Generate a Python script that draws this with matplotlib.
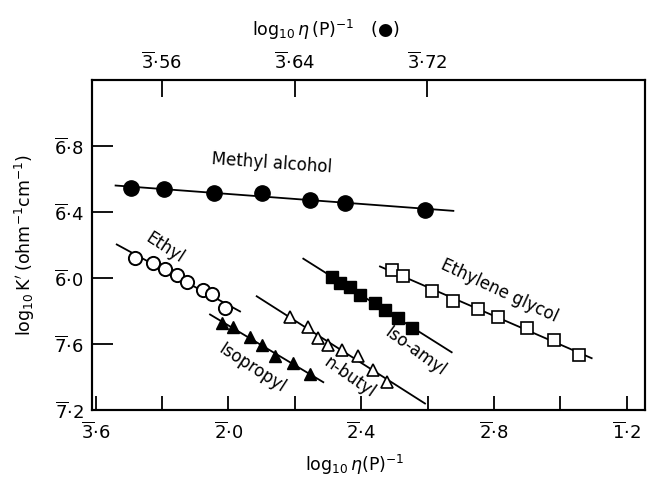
import numpy as np
import matplotlib
matplotlib.use("Agg")
import matplotlib.pyplot as plt

plt.rcParams["font.family"] = ["DejaVu Sans"]
plt.rcParams["mathtext.fontset"] = "dejavusans"

# methyl alcohol is read against the top axis
methyl_x = [-2.4588, -2.4388, -2.4087, -2.3797, -2.3506, -2.3295, -2.2814]
methyl_y = [-5.456, -5.462, -5.487, -5.483, -5.527, -5.547, -5.588]
methyl_span = [-2.4678, -2.2644]

ethyl_x = [-2.2813, -2.2262, -2.191, -2.1557, -2.1238, -2.0756, -2.0503, -2.0102]
ethyl_y = [-5.881, -5.911, -5.947, -5.982, -6.022, -6.073, -6.097, -6.184]
ethyl_span = [-2.3364, -1.965]

isopropyl_x = [-2.0202, -1.9852, -1.9349, -1.8997, -1.8596, -1.8063, -1.7542]
isopropyl_y = [-6.2745, -6.2952, -6.3558, -6.4061, -6.4727, -6.517, -6.5818]
isopropyl_span = [-2.0554, -1.7142]

butyl_x = [-1.8145, -1.7593, -1.7292, -1.6991, -1.6587, -1.6087, -1.5636, -1.5232]
butyl_y = [-6.2382, -6.2952, -6.3655, -6.4061, -6.4364, -6.4727, -6.5576, -6.6285]
butyl_span = [-1.9148, -1.4078]

isoamyl_x = [-1.6889, -1.6639, -1.6337, -1.6036, -1.5584, -1.5283, -1.4883, -1.4461]
isoamyl_y = [-5.9921, -6.0285, -6.0564, -6.1030, -6.1497, -6.1939, -6.2442, -6.3048]
isoamyl_span = [-1.7744, -1.3274]

glycol_x = [-1.5081, -1.4732, -1.3877, -1.3244, -1.2473, -1.1870, -1.1015, -1.0193, -0.9431]
glycol_y = [-5.9515, -5.9879, -6.0770, -6.1376, -6.1879, -6.2345, -6.3048, -6.3758, -6.4667]
glycol_span = [-1.5434, -0.9057]

bottom_ticks = [-2.4, -2.2, -2.0, -1.8, -1.6, -1.4, -1.2, -1.0, -0.8]
bottom_labels = [("3", "6"), None, ("2", "0"), None, ("2", "4"), None, ("2", "8"), None, ("1", "2")]
top_ticks = [-2.44, -2.36, -2.28]
top_labels = [("3", "56"), ("3", "64"), ("3", "72")]
left_ticks = [-6.8, -6.4, -6.0, -5.6, -5.2]
left_labels = [("7", "2"), ("7", "6"), ("6", "0"), ("6", "4"), ("6", "8")]


def bar_label(parts):
    if parts is None:
        return ""
    return r"$\overline{\mathrm{%s}}$·%s" % parts


def fit_line(ax, xs, ys, span):
    k, b = np.polyfit(xs, ys, 1)
    sx = np.array(span)
    ax.plot(sx, k * sx + b, color="black", lw=1.3, zorder=2)


fig = plt.figure(figsize=(6.47, 4.83), dpi=100)
ax = fig.add_axes([0.1422, 0.1511, 0.8547, 0.6833])
ax.set_xlim(-2.411, -0.745)
ax.set_ylim(-6.8, -4.8)

fit_line(ax, ethyl_x, ethyl_y, ethyl_span)
ax.plot(ethyl_x, ethyl_y, "o", ms=9.5, mfc="white", mec="black", mew=1.4, zorder=3)
fit_line(ax, isopropyl_x, isopropyl_y, isopropyl_span)
ax.plot(isopropyl_x, isopropyl_y, "^", ms=8.5, color="black", zorder=3)
fit_line(ax, butyl_x, butyl_y, butyl_span)
ax.plot(butyl_x, butyl_y, "^", ms=8.5, mfc="white", mec="black", mew=1.2, zorder=3)
fit_line(ax, isoamyl_x, isoamyl_y, isoamyl_span)
ax.plot(isoamyl_x, isoamyl_y, "s", ms=8.5, color="black", zorder=3)
fit_line(ax, glycol_x, glycol_y, glycol_span)
ax.plot(glycol_x, glycol_y, "s", ms=8, mfc="white", mec="black", mew=1.2, zorder=3)

ax.set_xticks(bottom_ticks)
ax.set_xticklabels([bar_label(p) for p in bottom_labels])
ax.set_yticks(left_ticks)
ax.set_yticklabels([bar_label(p) for p in left_labels])
ax.tick_params(axis="x", direction="in", length=10, width=1.3, labelsize=13, pad=8)
ax.tick_params(axis="y", direction="in", length=15, width=1.3, labelsize=13, pad=6)

ax2 = ax.twiny()
ax2.set_xlim(-2.482, -2.149)
fit_line(ax2, methyl_x, methyl_y, methyl_span)
ax2.plot(methyl_x, methyl_y, "o", ms=11, color="black", zorder=3)
ax2.set_xticks(top_ticks)
ax2.set_xticklabels([bar_label(p) for p in top_labels])
ax2.tick_params(axis="x", direction="in", length=12, width=1.3, labelsize=13, pad=5)

for a in (ax, ax2):
    for s in a.spines.values():
        s.set_linewidth(1.5)

ax.text(-1.8687, -5.303, "Methyl alcohol", fontsize=12, rotation=-4,
        ha="center", va="center", rotation_mode="anchor")
ax.text(-2.191, -5.818, "Ethyl", fontsize=12, rotation=-33,
        ha="center", va="center", rotation_mode="anchor")
ax.text(-1.929, -6.545, "Isopropyl", fontsize=12, rotation=-33,
        ha="center", va="center", rotation_mode="anchor")
ax.text(-1.6337, -6.60, "n-butyl", fontsize=12, rotation=-35,
        ha="center", va="center", rotation_mode="anchor")
ax.text(-1.438, -6.448, "Iso-amyl", fontsize=12, rotation=-36,
        ha="center", va="center", rotation_mode="anchor")
ax.text(-1.185, -6.079, "Ethylene glycol", fontsize=12, rotation=-25,
        ha="center", va="center", rotation_mode="anchor")

fig.text(0.549, 0.037, r"$\mathrm{log}_{10}\,\eta(\mathrm{P})^{-1}$",
         ha="center", va="center", fontsize=12.5)
fig.text(0.504, 0.938, r"$\mathrm{log}_{10}\,\eta\,(\mathrm{P})^{-1}$   (●)",
         ha="center", va="center", fontsize=12.5)
fig.text(0.039, 0.493, r"$\mathrm{log}_{10}\,\mathrm{K}'\;(\mathrm{ohm}^{-1}\mathrm{cm}^{-1})$",
         ha="center", va="center", rotation=90, fontsize=12.5)

fig.savefig("out.png", dpi=100)
